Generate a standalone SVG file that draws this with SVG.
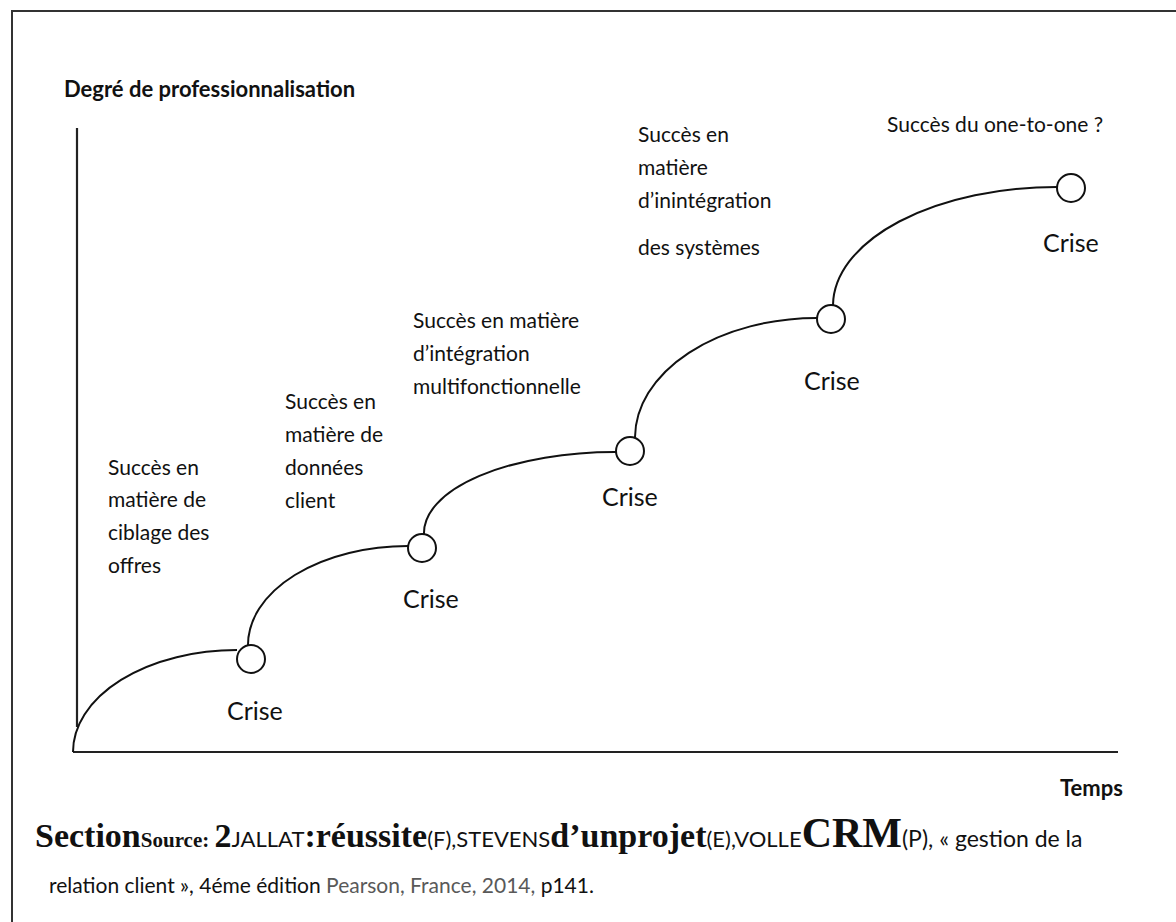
<svg xmlns="http://www.w3.org/2000/svg" width="1176" height="922" viewBox="0 0 1176 922">
<style>
.lbl{font-family:Lato,"Liberation Sans",sans-serif;font-size:21px;fill:#111}
.crise{font-family:Lato,"Liberation Sans",sans-serif;font-size:25px;fill:#111}
.axt{font-family:Lato,"Liberation Sans",sans-serif;font-size:22px;font-weight:bold;fill:#111}
.curve{fill:none;stroke:#111;stroke-width:2}
.node{fill:#fff;stroke:#111;stroke-width:2}
.axis{stroke:#222;stroke-width:2.2;fill:none}
.src{font-family:Lato,"Liberation Sans",sans-serif;font-size:23px;fill:#111}
.src2{font-family:Lato,"Liberation Sans",sans-serif;font-size:21px;fill:#111}
.tb{font-family:"Liberation Serif",serif;font-weight:bold}
</style>
<rect width="1176" height="922" fill="#fff"/>
<path d="M12,922 V11 H1176" fill="none" stroke="#333" stroke-width="2"/>
<g id="axes">
<line class="axis" x1="77" y1="128" x2="77" y2="727"/>
<line class="axis" x1="73" y1="752" x2="1118" y2="752"/>
<text class="axt" x="64" y="97">Degré de professionnalisation</text>
<text class="axt" x="1060" y="796">Temps</text>
</g>
<g id="connectors">
<path class="curve" d="M73,752 A164,102 0 0 1 237,650"/>
<path class="curve" d="M248,645 A160,99 0 0 1 408,546"/>
<path class="curve" d="M424,534 A191,81 0 0 1 616,452"/>
<path class="curve" d="M635,437 A182,120 0 0 1 817,318"/>
<path class="curve" d="M833,305 A224,119 0 0 1 1057,187"/>
</g>
<g id="crise1"><circle class="node" cx="251" cy="659" r="14"/><text class="crise" x="227" y="720">Crise</text></g>
<g id="crise2"><circle class="node" cx="422" cy="548" r="14"/><text class="crise" x="403" y="608">Crise</text></g>
<g id="crise3"><circle class="node" cx="630" cy="451" r="14"/><text class="crise" x="602" y="506">Crise</text></g>
<g id="crise4"><circle class="node" cx="831" cy="319" r="14"/><text class="crise" x="804" y="390">Crise</text></g>
<g id="crise5"><circle class="node" cx="1071" cy="188" r="14"/><text class="crise" x="1043" y="252">Crise</text></g>
<g id="label1"><text class="lbl"><tspan x="108" y="475">Succès en</tspan><tspan x="108" y="507">matière de</tspan><tspan x="108" y="540">ciblage des</tspan><tspan x="108" y="573">offres</tspan></text></g>
<g id="label2"><text class="lbl"><tspan x="285" y="409">Succès en</tspan><tspan x="285" y="442">matière de</tspan><tspan x="285" y="475">données</tspan><tspan x="285" y="508">client</tspan></text></g>
<g id="label3"><text class="lbl"><tspan x="413" y="328">Succès en matière</tspan><tspan x="413" y="361">d’intégration</tspan><tspan x="413" y="394">multifonctionnelle</tspan></text></g>
<g id="label4"><text class="lbl"><tspan x="638" y="142">Succès en</tspan><tspan x="638" y="175">matière</tspan><tspan x="638" y="208">d’inintégration</tspan><tspan x="638" y="255">des systèmes</tspan></text></g>
<g id="label5"><text class="lbl" x="887" y="132">Succès du one-to-one ?</text></g>
<g id="source">
<text class="src" x="35" y="847"><tspan class="tb" font-size="34">Section</tspan><tspan class="tb" font-size="21">Source: </tspan><tspan class="tb" font-size="34">2</tspan><tspan font-size="22">JALLAT</tspan><tspan class="tb" font-size="34">:réussite</tspan><tspan font-size="22">(F),STEVENS</tspan><tspan class="tb" font-size="34">d’unprojet</tspan><tspan font-size="22">(E),VOLLE</tspan><tspan class="tb" font-size="42">CRM</tspan><tspan>(P), « gestion de la</tspan></text>
<text class="src2" x="49" y="893">relation client », 4éme édition <tspan fill="#595959">Pearson, France, 2014,</tspan> p141.</text>
</g>
</svg>
